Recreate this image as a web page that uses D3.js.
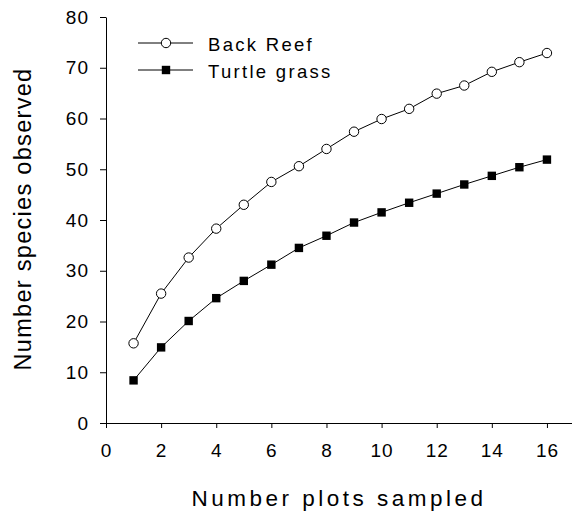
<!DOCTYPE html>
<html><head><meta charset="utf-8">
<script src="https://cdn.jsdelivr.net/npm/d3@7"></script>
<style>body{margin:0;background:#fff}svg{display:block}text{font-family:Arial,"Liberation Sans",sans-serif;fill:#000}</style>
</head><body>
<script>
const plots = [1,2,3,4,5,6,7,8,9,10,11,12,13,14,15,16];
const backReef = [15.7,25.5,32.6,38.3,43.0,47.5,50.6,54.0,57.4,59.9,61.9,64.9,66.5,69.2,71.1,72.9];
const turtleGrass = [8.4,14.9,20.1,24.6,28.0,31.2,34.5,36.9,39.5,41.5,43.4,45.2,47.0,48.7,50.4,51.9];
const xTicks = [0,2,4,6,8,10,12,14,16];
const yTicks = [0,10,20,30,40,50,60,70,80];
const seriesNames = ["Back Reef","Turtle grass"];
const xTitle = "Number plots sampled";
const yTitle = "Number species observed";

const W=572,H=514;
const svg=d3.select("body").append("svg").attr("width",W).attr("height",H);
const x=d3.scaleLinear().domain([0,17]).range([106,574.5]);
const y=d3.scaleLinear().domain([0,80]).range([423,17]);

const gx=svg.append("g").attr("transform","translate(0,423)")
  .call(d3.axisBottom(x).tickValues(xTicks).tickSize(5).tickPadding(16).tickSizeOuter(0));
const gy=svg.append("g").attr("transform","translate(106,0)")
  .call(d3.axisLeft(y).tickValues(yTicks).tickSize(6).tickPadding(11).tickSizeOuter(0));
[gx,gy].forEach(g=>{
  g.selectAll("path,line").attr("stroke","#000").attr("stroke-width",1);
  g.selectAll("text").attr("font-size",19).attr("font-family",'Arial,"Liberation Sans",sans-serif').attr("letter-spacing",1).attr("fill","#000");
});

const line=d3.line().x((d,i)=>x(plots[i])).y(d=>y(d));
svg.append("path").datum(backReef).attr("d",line).attr("fill","none").attr("stroke","#000").attr("stroke-width",1);
svg.append("path").datum(turtleGrass).attr("d",line).attr("fill","none").attr("stroke","#000").attr("stroke-width",1);

svg.selectAll(".tg").data(turtleGrass).enter().append("rect")
  .attr("x",(d,i)=>x(plots[i])-4.2).attr("y",d=>y(d)-4.2).attr("width",8.4).attr("height",8.4).attr("fill","#000");
svg.selectAll(".br").data(backReef).enter().append("circle")
  .attr("cx",(d,i)=>x(plots[i])).attr("cy",d=>y(d)).attr("r",4.7).attr("fill","#fff").attr("stroke","#000").attr("stroke-width",1);

// legend
const leg=svg.append("g");
[43,70].forEach((ly,k)=>{
  leg.append("line").attr("x1",138).attr("x2",193).attr("y1",ly).attr("y2",ly).attr("stroke","#000");
  if(k===0) leg.append("circle").attr("cx",166).attr("cy",ly).attr("r",4.7).attr("fill","#fff").attr("stroke","#000");
  else leg.append("rect").attr("x",161.8).attr("y",ly-4.2).attr("width",8.4).attr("height",8.4).attr("fill","#000");
  leg.append("text").attr("x",208).attr("y",ly+8).attr("font-size",18.5).attr("letter-spacing",2.3).text(seriesNames[k]);
});

svg.append("text").attr("x",339).attr("y",506).attr("text-anchor","middle").attr("font-size",22.5).attr("letter-spacing",3.5).text(xTitle);
svg.append("text").attr("transform","translate(31,219) rotate(-90)").attr("text-anchor","middle").attr("font-size",23.5).attr("letter-spacing",1.3).text(yTitle);
</script>
</body></html>
